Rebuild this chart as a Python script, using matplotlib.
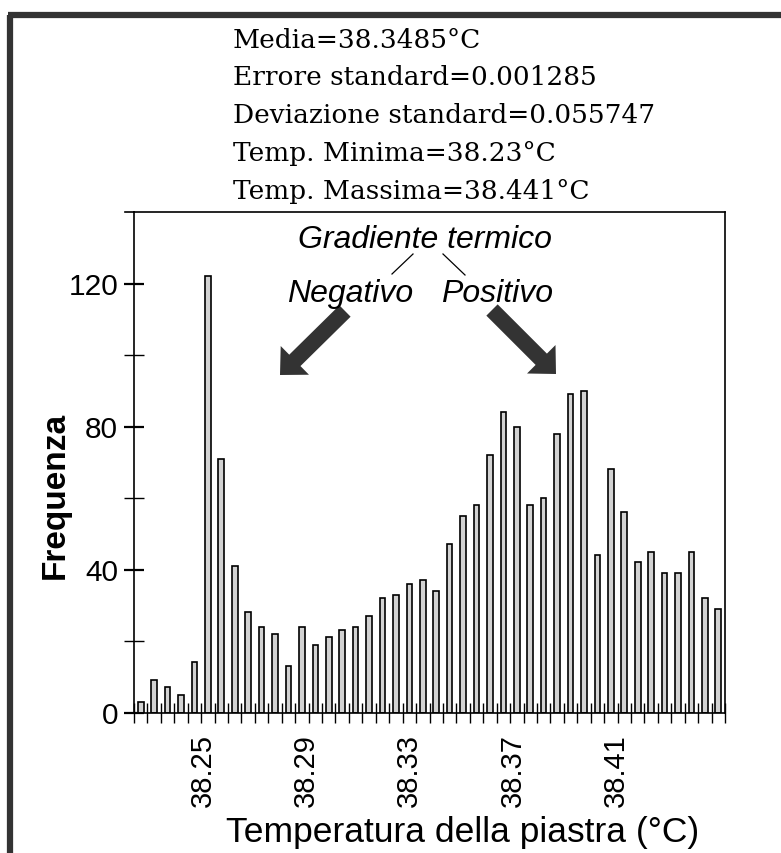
import numpy as np
import matplotlib
matplotlib.use("Agg")
import matplotlib.pyplot as plt
from matplotlib.lines import Line2D

# ---- data ----
freq = [3, 9, 7, 5, 14, 122, 71, 41, 28, 24,
        22, 13, 24, 19, 21, 23, 24, 27, 32, 33,
        36, 37, 34, 47, 55, 58, 72, 84, 80, 58,
        60, 78, 89, 90, 44, 68, 56, 42, 45, 39,
        39, 45, 32, 29]
bin_start = 38.2234   # left edge of first bin (°C)
bin_width = 0.0052    # bin width (°C)
xtick_values = [38.25, 38.29, 38.33, 38.37, 38.41]
xtick_labels = ["38.25", "38.29", "38.33", "38.37", "38.41"]
ytick_major = [0, 40, 80, 120]
ytick_minor = [20, 60, 100]
stats_lines = ["Media=38.3485°C",
               "Errore standard=0.001285",
               "Deviazione standard=0.055747",
               "Temp. Minima=38.23°C",
               "Temp. Massima=38.441°C"]

W, H = 781, 854
fig = plt.figure(figsize=(W / 100, H / 100), dpi=100)
fig.patch.set_facecolor("white")

def fx(x):
    return x / W

def fy(y):
    return 1 - y / H

ax_l, ax_r, ax_t, ax_b = 134, 725, 213, 713.5
ax = fig.add_axes([fx(ax_l), fy(ax_b), (ax_r - ax_l) / W, (ax_b - ax_t) / H])

n = len(freq)
edges = bin_start + bin_width * np.arange(n + 1)
centers = edges[:-1] + bin_width / 2
ax.bar(centers, freq, width=bin_width * 0.42, color="#d2d2d2",
       edgecolor="black", linewidth=1.2, zorder=2)

ax.set_xlim(edges[0], edges[-1])
ax.set_ylim(0, 140)

for s in ax.spines.values():
    s.set_linewidth(1.2)
    s.set_color("black")

sans = ["Liberation Sans", "DejaVu Sans"]
ax.set_yticks(ytick_major)
ax.set_yticklabels([str(v) for v in ytick_major], fontsize=21.5, family=sans)
ax.set_yticks(ytick_minor, minor=True)
ax.tick_params(axis="y", which="major", direction="inout", length=15, width=1.6, pad=4)
ax.tick_params(axis="y", which="minor", direction="inout", length=15, width=1.0)

ax.set_xticks(xtick_values)
ax.set_xticklabels(xtick_labels, rotation=90, fontsize=21, family=sans)
ax.set_xticks(edges, minor=True)
ax.tick_params(axis="x", which="major", length=0, pad=15)
ax.tick_params(axis="x", which="minor", direction="inout", length=14, width=1.0)

# axis titles placed as figure text to match the reference offsets
fig.text(fx(55), fy(495), "Frequenza", fontsize=24, fontweight="bold", family=sans,
         rotation=90, ha="center", va="center")
fig.text(fx(463), fy(833), "Temperatura della piastra (°C)", fontsize=25.5,
         family=sans, ha="center", va="center")

# statistics text
baselines = [48, 85, 123, 161, 199]
for txt, yb in zip(stats_lines, baselines):
    fig.text(fx(233), fy(yb), txt, fontsize=19, family=["DejaVu Serif"],
             ha="left", va="baseline")

# annotations
fig.text(fx(425), fy(248), "Gradiente termico", fontsize=23, style="italic",
         family=sans, ha="center", va="baseline")
fig.text(fx(350), fy(302), "Negativo", fontsize=23, style="italic",
         family=sans, ha="center", va="baseline")
fig.text(fx(497), fy(302), "Positivo", fontsize=23, style="italic",
         family=sans, ha="center", va="baseline")

fig.add_artist(Line2D([fx(413), fx(392)], [fy(255), fy(275)], color="black", lw=0.9))
fig.add_artist(Line2D([fx(443), fx(465)], [fy(255), fy(276)], color="black", lw=0.9))

arrow_style = "simple,head_length=1.5,head_width=2.9,tail_width=1.15"
for (x0, y0), (x1, y1) in [((345, 312), (280, 376)), ((492, 311), (556, 375))]:
    ax.annotate("", xy=(x1, H - y1), xycoords="figure pixels",
                xytext=(x0, H - y0), textcoords="figure pixels",
                arrowprops=dict(arrowstyle=arrow_style, color="#333333",
                                mutation_scale=10, shrinkA=0, shrinkB=0, lw=0))

# top axis line extension to the left
fig.add_artist(Line2D([fx(125), fx(134)], [fy(213), fy(213)], color="black", lw=1.2))

# outer frame (thick border left and top)
fig.add_artist(Line2D([fx(10), fx(10)], [fy(16), 0], color="#333333", lw=4.5,
                      solid_capstyle="butt"))
fig.add_artist(Line2D([fx(7.8), 1], [fy(16), fy(16)], color="#333333", lw=4.5,
                      solid_capstyle="butt"))

fig.savefig("out.png", dpi=100)
